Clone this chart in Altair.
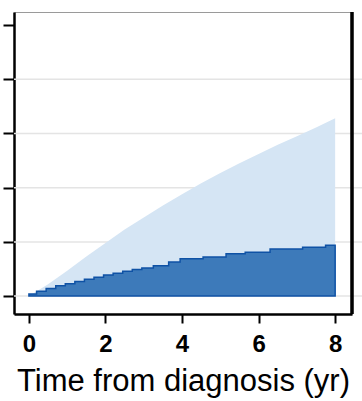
import altair as alt
import pandas as pd

# Upper (light) band: smooth cumulative curve
upper_t = [0, 0.5, 1, 1.5, 2, 2.5, 3, 3.5, 4, 4.5, 5, 5.5, 6, 6.5, 7, 7.5, 8]
upper_v = [0, 0.22, 0.47, 0.73, 0.98, 1.23, 1.45, 1.67, 1.88, 2.08, 2.27, 2.45, 2.62, 2.79, 2.95, 3.11, 3.28]

# Lower (dark) band: step function
lower_t = [0, 0.2, 0.45, 0.7, 0.95, 1.2, 1.45, 1.7, 1.95, 2.2, 2.45, 2.7, 2.95,
           3.25, 3.65, 3.95, 4.55, 5.15, 5.65, 6.3, 7.15, 7.75, 8.0]
lower_v = [0.04, 0.09, 0.14, 0.19, 0.23, 0.27, 0.31, 0.35, 0.39, 0.42, 0.46, 0.49, 0.52,
           0.56, 0.63, 0.69, 0.72, 0.78, 0.81, 0.87, 0.90, 0.94, 0.94]

x_ticks = [0, 2, 4, 6, 8]
y_ticks = [0, 1, 2, 3, 4, 5]
grid_vals = [0, 1, 2, 3, 4]

upper_df = pd.DataFrame({"t": upper_t, "v": upper_v, "base": [0] * len(upper_t)})
lower_df = pd.DataFrame({"t": lower_t, "v": lower_v, "base": [0] * len(lower_t)})
grid_df = pd.DataFrame({"g": grid_vals})

xscale = alt.Scale(domain=[-0.39, 8.44], nice=False, zero=False)
yscale = alt.Scale(domain=[-0.33, 5.24], nice=False, zero=False)

xaxis = alt.Axis(values=x_ticks, title="Time from diagnosis (yr)", grid=False,
                 tickSize=9, tickWidth=2, tickColor="black",
                 domainColor="black", domainWidth=2.5,
                 labelFont="Liberation Sans", labelFontSize=24, labelFontWeight="bold",
                 labelColor="black", labelPadding=9,
                 titleFont="Liberation Sans", titleFontSize=31, titleFontWeight="normal",
                 titleColor="black", titlePadding=10)
yaxis = alt.Axis(values=y_ticks, title=None, labels=False, grid=False,
                 tickSize=11, tickWidth=2, tickColor="black",
                 domainColor="black", domainWidth=2.5)

grid = alt.Chart(grid_df).mark_rule(color="#e4e4e4", strokeWidth=1.5).encode(
    y=alt.Y("g:Q", scale=yscale, axis=yaxis),
    x=alt.value(0), x2=alt.value(348),
)

upper = alt.Chart(upper_df).mark_area(color="#d5e5f4", opacity=1).encode(
    x=alt.X("t:Q", scale=xscale, axis=xaxis),
    y=alt.Y("v:Q", scale=yscale, axis=yaxis),
    y2="base:Q",
)

lower = alt.Chart(lower_df).mark_area(
    interpolate="step-after", fill="#3d7aba", fillOpacity=1,
    stroke="#0f52a5", strokeWidth=1.5,
).encode(
    x=alt.X("t:Q", scale=xscale, axis=xaxis),
    y=alt.Y("v:Q", scale=yscale, axis=yaxis),
    y2="base:Q",
)

right_border = alt.Chart(grid_df).mark_rule(color="black", strokeWidth=2.5).encode(
    x=alt.value(338), y=alt.value(0), y2=alt.value(302),
)

chart = alt.layer(grid, upper, lower, right_border).properties(
    width=338, height=302,
    autosize=alt.AutoSizeParams(type="none"),
    padding={"left": 14, "top": 12, "right": 10, "bottom": 87},
).configure_view(stroke="#9a9a9a", strokeWidth=1)

chart.save("out.html", embed_options={"renderer": "svg", "actions": False})
